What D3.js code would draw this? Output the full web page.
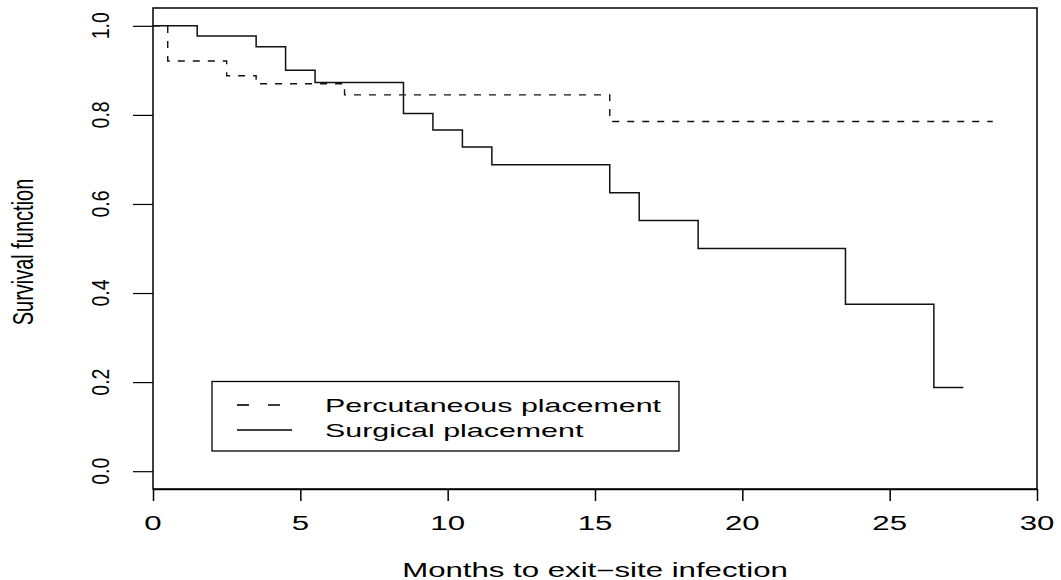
<!DOCTYPE html>
<html>
<head>
<meta charset="utf-8">
<script src="https://cdn.jsdelivr.net/npm/d3@7"></script>
<style>
body { margin: 0; background: #fff; }
text { font-family: "Liberation Sans", Arial, sans-serif; fill: #000; }
</style>
</head>
<body>
<svg id="plot" width="1061" height="580"></svg>
<script>
// Kaplan-Meier step estimates
var percTimes = [0, 0.5, 2.5, 3.5, 6.5, 15.5, 28.5];
var percSurv  = [1.0, 0.921, 0.888, 0.870, 0.845, 0.785, 0.785];

var surgTimes = [0, 1.5, 3.5, 4.5, 5.5, 8.5, 9.5, 10.5, 11.5, 15.5, 16.5, 18.5, 23.5, 26.5, 27.5];
var surgSurv  = [1.0, 0.977, 0.953, 0.900, 0.873, 0.803, 0.766, 0.728, 0.688, 0.625, 0.563, 0.500, 0.375, 0.188, 0.188];

var xTicks = [0, 5, 10, 15, 20, 25, 30];
var yTicks = [0.0, 0.2, 0.4, 0.6, 0.8, 1.0];
var legendLabels = ["Percutaneous placement", "Surgical placement"];

var svg = d3.select("#plot");
var box = {left: 153, right: 1037, top: 8, bottom: 489};
var stretch = 1.6; // the picture is wider than tall, text is stretched sideways

var x = d3.scaleLinear().domain([0, 30]).range([box.left, box.right]);
var y = d3.scaleLinear().domain([-0.04, 1.04]).range([box.bottom, box.top]);

var line = d3.line()
    .x(function(d) { return x(d[0]); })
    .y(function(d) { return y(d[1]); })
    .curve(d3.curveStepAfter);

//curves
svg.append("path")
    .datum(d3.zip(percTimes, percSurv))
    .attr("d", line)
    .attr("fill", "none")
    .attr("stroke", "#111")
    .attr("stroke-width", 1.4)
    .attr("stroke-dasharray", "7,8");

svg.append("path")
    .datum(d3.zip(surgTimes, surgSurv))
    .attr("d", line)
    .attr("fill", "none")
    .attr("stroke", "#111")
    .attr("stroke-width", 1.5);

//box
svg.append("rect")
    .attr("x", box.left)
    .attr("y", box.top)
    .attr("width", box.right - box.left)
    .attr("height", box.bottom - box.top)
    .attr("fill", "none")
    .attr("stroke", "#000")
    .attr("stroke-width", 1.5);

//x axis
var xAxis = svg.append("g")
    .attr("transform", "translate(0," + box.bottom + ")")
    .call(d3.axisBottom(x).tickValues(xTicks).tickSizeOuter(0).tickSizeInner(12).tickFormat(""));
xAxis.select(".domain").attr("stroke-width", 1.5);
xAxis.selectAll(".tick line").attr("stroke-width", 1.5);

svg.append("g").selectAll("text")
    .data(xTicks)
    .enter().append("text")
    .attr("transform", function(d) { return "translate(" + x(d) + ",530) scale(" + stretch + ",1)"; })
    .attr("text-anchor", "middle")
    .attr("font-size", 19.5)
    .text(function(d) { return d; });

//y axis
var yAxis = svg.append("g")
    .attr("transform", "translate(" + box.left + ",0)")
    .call(d3.axisLeft(y).tickValues(yTicks).tickSizeOuter(0).tickSizeInner(20).tickFormat(""));
yAxis.select(".domain").remove();
yAxis.selectAll(".tick line").attr("stroke-width", 1.2);

svg.append("g").selectAll("text")
    .data(yTicks)
    .enter().append("text")
    .attr("transform", function(d) { return "translate(108.5," + y(d) + ") scale(1.25,1) rotate(-90)"; })
    .attr("text-anchor", "middle")
    .attr("font-size", 19.5)
    .text(function(d) { return d.toFixed(1); });

//axis titles
svg.append("text")
    .attr("transform", "translate(595,577) scale(" + stretch + ",1)")
    .attr("text-anchor", "middle")
    .attr("font-size", 19.5)
    .text("Months to exit\u2212site infection");

svg.append("text")
    .attr("transform", "translate(33,252) scale(1.45,1) rotate(-90)")
    .attr("text-anchor", "middle")
    .attr("font-size", 20)
    .text("Survival function");

//legend
var legend = svg.append("g");
legend.append("rect")
    .attr("x", 212)
    .attr("y", 381.5)
    .attr("width", 467)
    .attr("height", 69.5)
    .attr("fill", "#fff")
    .attr("stroke", "#000")
    .attr("stroke-width", 1.3);

var rows = legend.selectAll("g.row")
    .data(legendLabels)
    .enter().append("g")
    .attr("class", "row")
    .attr("transform", function(d, i) { return "translate(0," + (405 + i * 25) + ")"; });

rows.append("line")
    .attr("x1", 237)
    .attr("x2", 292)
    .attr("stroke", "#000")
    .attr("stroke-width", 1.6)
    .attr("stroke-dasharray", function(d, i) { return i == 0 ? "12,19" : null; });

rows.append("text")
    .attr("transform", "translate(325,7) scale(" + stretch + ",1)")
    .attr("font-size", 19)
    .text(function(d) { return d; });
</script>
</body>
</html>
